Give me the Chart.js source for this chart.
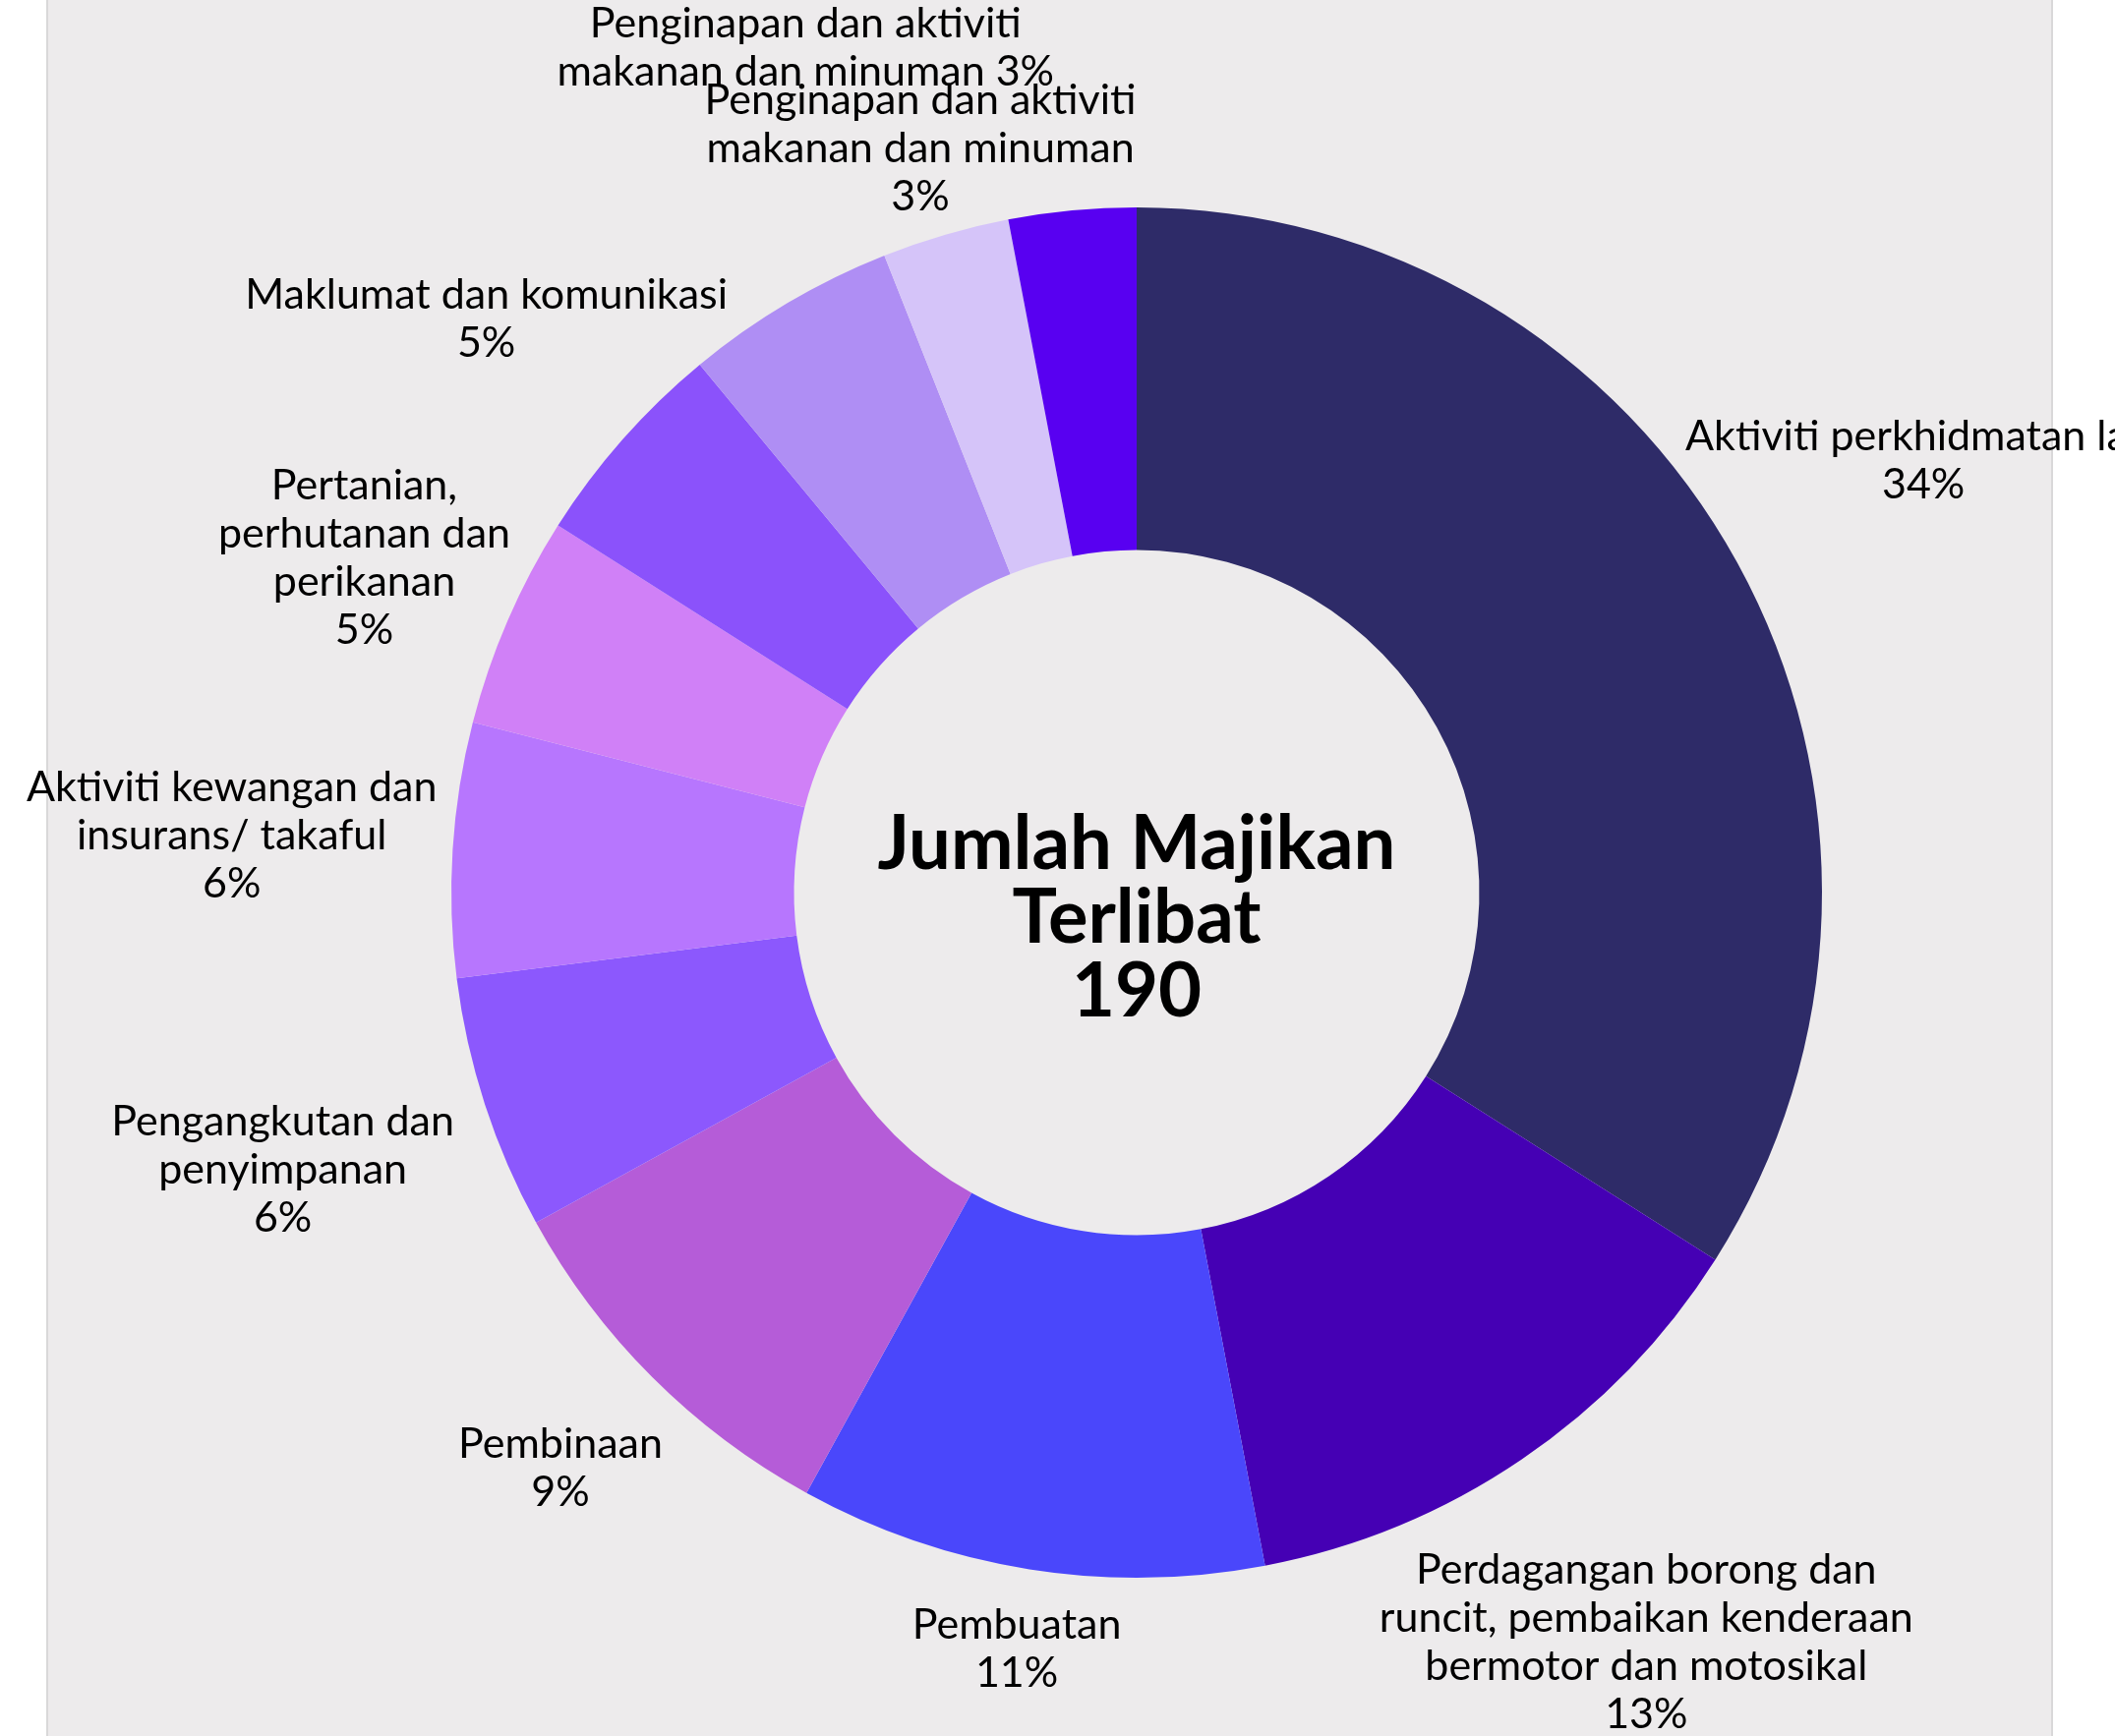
<!DOCTYPE html>
<html>
<head>
<meta charset="utf-8">
<script src="https://cdn.jsdelivr.net/npm/chart.js@4.4.1/dist/chart.umd.min.js"></script>
<style>
    html, body { margin: 0; padding: 0; background: #ffffff; }
    #panel {
        position: absolute; left: 47px; top: 0; width: 2037px; height: 1766px;
        background: #edebec; border-left: 2px solid #d9d8d9; border-right: 2px solid #d9d8d9;
    }
    #wrap { position: absolute; left: 0; top: 0; width: 2151px; height: 1766px; }
</style>
</head>
<body>
<div id="panel"></div>
<div id="wrap"><canvas id="sectorChart"></canvas></div>
<script>
// Sektor majikan (nilai dalam peratus, ikut jam dari atas)
const categories = [
    'Aktiviti perkhidmatan lain',
    'Perdagangan borong dan runcit, pembaikan kenderaan bermotor dan motosikal',
    'Pembuatan',
    'Pembinaan',
    'Pengangkutan dan penyimpanan',
    'Aktiviti kewangan dan insurans/ takaful',
    'Pertanian, perhutanan dan perikanan',
    'Maklumat dan komunikasi',
    '',
    'Penginapan dan aktiviti makanan dan minuman',
    'Penginapan dan aktiviti makanan dan minuman'
];
const values = [34, 13, 11, 9, 6, 6, 5, 5, 5, 3, 3];
const totalMajikan = 190;
const centerTitle = ['Jumlah Majikan', 'Terlibat'];

// label text as wrapped in the picture (null = no label shown)
const labelLines = [
    ['Aktiviti perkhidmatan lain'],
    ['Perdagangan borong dan', 'runcit, pembaikan kenderaan', 'bermotor dan motosikal'],
    ['Pembuatan'],
    ['Pembinaan'],
    ['Pengangkutan dan', 'penyimpanan'],
    ['Aktiviti kewangan dan', 'insurans/ takaful'],
    ['Pertanian,', 'perhutanan dan', 'perikanan'],
    ['Maklumat dan komunikasi'],
    null,
    ['Penginapan dan aktiviti', 'makanan dan minuman'],
    ['Penginapan dan aktiviti', 'makanan dan minuman']
];

const colors = [
    '#2e2b68', '#4500b4', '#4a47fb', '#b55cd8', '#8c58fd', '#b776fe',
    '#d080f7', '#8b52fb', '#af8ef4', '#d5c4f9', '#5800f1'
];

// label placement: [radius factor of outer radius, angle nudge in degrees, percent inline]
const labelPlace = [
    [1.31, 0, false], [1.323, 0, false], [1.118, 0, false], [1.189, 0, false],
    [1.31, 0, false], [1.323, 0, false], [1.228, 0, false], [1.265, 0, false],
    null, [1.131, 0, false], [1.324, -16, true]
];

const LABEL_FONT = '43px Lato';
const LABEL_LINE = 49;

const sliceLabels = {
    id: 'sliceLabels',
    afterDatasetsDraw(chart) {
        const ctx = chart.ctx;
        const meta = chart.getDatasetMeta(0);
        const sum = values.reduce((a, b) => a + b, 0);
        ctx.save();
        ctx.font = LABEL_FONT;
        ctx.fillStyle = '#000000';
        ctx.textAlign = 'center';
        ctx.textBaseline = 'middle';
        meta.data.forEach(function (arc, i) {
            if (!labelLines[i] || !labelPlace[i]) return;
            const p = arc.getProps(['x', 'y', 'startAngle', 'endAngle', 'outerRadius'], true);
            const place = labelPlace[i];
            const mid = (p.startAngle + p.endAngle) / 2 + place[1] * Math.PI / 180;
            const r = p.outerRadius * place[0];
            const cx = p.x + Math.cos(mid) * r;
            const cy = p.y + Math.sin(mid) * r;
            const pct = Math.round(values[i] / sum * 100) + '%';
            const lines = labelLines[i].slice();
            if (place[2]) {
                lines[lines.length - 1] += ' ' + pct;
            } else {
                lines.push(pct);
            }
            const top = cy - (lines.length - 1) * LABEL_LINE / 2;
            lines.forEach(function (line, k) {
                ctx.fillText(line, cx, top + k * LABEL_LINE);
            });
        });
        ctx.restore();
    }
};

const centerText = {
    id: 'centerText',
    afterDraw(chart) {
        const ctx = chart.ctx;
        const arc = chart.getDatasetMeta(0).data[0];
        if (!arc) return;
        const x = arc.x, y = arc.y;
        const lines = centerTitle.concat([String(totalMajikan)]);
        ctx.save();
        ctx.font = 'bold 76px Lato';
        ctx.fillStyle = '#000000';
        ctx.textAlign = 'center';
        ctx.textBaseline = 'middle';
        const lh = 75;
        const top = y + 26 - lh;
        lines.forEach(function (line, k) {
            ctx.fillText(line, x, top + k * lh);
        });
        ctx.restore();
    }
};

new Chart(document.getElementById('sectorChart'), {
    type: 'doughnut',
    data: {
        labels: categories,
        datasets: [{
            data: values,
            backgroundColor: colors,
            borderWidth: 0,
            hoverOffset: 0,
            offset: 0
        }]
    },
    options: {
        responsive: true,
        maintainAspectRatio: false,
        animation: false,
        cutout: '50%',
        layout: {
            padding: { left: 459, right: 298, top: 211, bottom: 161 }
        },
        plugins: {
            legend: { display: false },
            tooltip: { enabled: false }
        }
    },
    plugins: [sliceLabels, centerText]
});
</script>
</body>
</html>
